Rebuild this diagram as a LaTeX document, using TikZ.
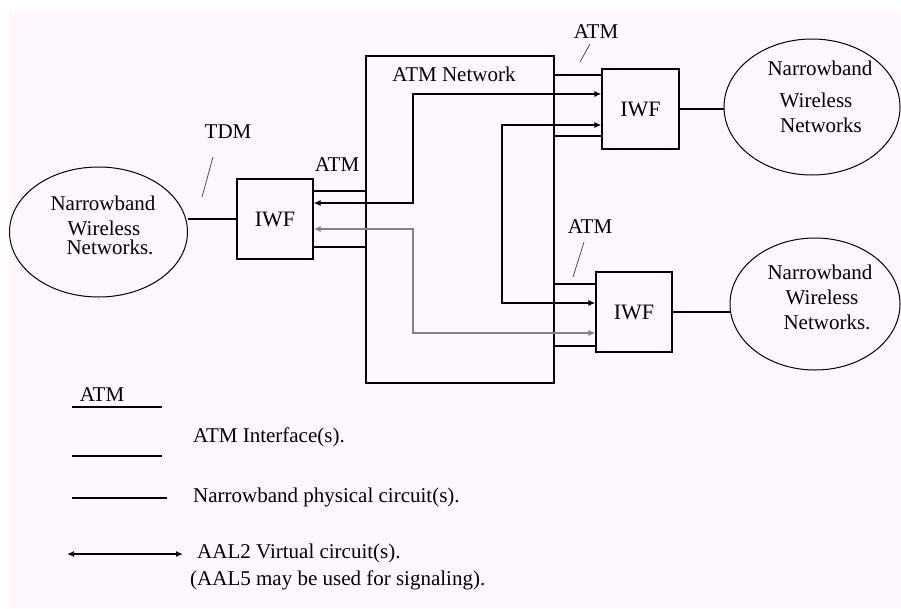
\documentclass[tikz,border=0pt]{standalone}
\usepackage{fontspec}
\setmainfont{Liberation Serif}
\usetikzlibrary{arrows.meta,shapes.geometric}
\definecolor{bgpink}{RGB}{254,247,254}
\definecolor{vcgray}{RGB}{130,130,130}
\tikzset{
  lbl/.style={inner sep=0pt, font=\fontsize{21}{24}\selectfont},
  iwfbox/.style={draw, line width=1.3pt, inner sep=0pt, font=\fontsize{22}{24}\selectfont},
  cloud/.style={draw, ellipse, line width=1pt, inner sep=0pt},
  link/.style={line width=1.3pt},
  vc/.style={line width=1.3pt, {Latex[length=7pt,width=6pt]}-{Latex[length=7pt,width=6pt]}},
  tick/.style={line width=0.8pt, black!70}
}
\begin{document}
\begin{tikzpicture}[x=1pt,y=-1pt]
\useasboundingbox (0,0) rectangle (901,608);
\fill[bgpink] (9,10) rectangle (901,608);

% ATM network
\node[draw, line width=1.3pt, minimum width=188pt, minimum height=327pt, inner sep=0pt] (net) at (460,219.5) {};
\node[lbl] (netlbl) at (454,74) {ATM Network};

% IWF boxes
\node[iwfbox, minimum width=76pt, minimum height=80pt] (liwf) at (275,219) {IWF};
\node[iwfbox, minimum width=77pt, minimum height=80pt] (uiwf) at (640.5,109) {IWF};
\node[iwfbox, minimum width=76pt, minimum height=80pt] (biwf) at (634,312) {IWF};

% ellipses
\node[cloud, minimum width=178pt, minimum height=130pt] (lell) at (98.5,232) {};
\node[cloud, minimum width=176pt, minimum height=136pt] (uell) at (812,107) {};
\node[cloud, minimum width=170pt, minimum height=132pt] (bell) at (815,304) {};

\node[lbl] (lt1) at (103,203) {Narrowband};
\node[lbl] (lt2) at (104,228) {Wireless};
\node[lbl] (lt3) at (110,247) {Networks.};
\node[lbl] (ut1) at (820,68) {Narrowband};
\node[lbl] (ut2) at (816,100) {Wireless};
\node[lbl] (ut3) at (821,125) {Networks};
\node[lbl] (bt1) at (820,272) {Narrowband};
\node[lbl] (bt2) at (822,297) {Wireless};
\node[lbl] (bt3) at (827,322) {Networks.};

% narrowband circuits
\draw[link] (liwf.west) -- (liwf.west -| lell.east);
\draw[link] (uiwf.east) -- (uiwf.east -| uell.west);
\draw[link] (biwf.east) -- (biwf.east -| bell.west);

% ATM interfaces
\draw[link] (liwf.east |- 0,191) -- (net.west |- 0,191);
\draw[link] (liwf.east |- 0,247) -- (net.west |- 0,247);
\draw[link] (net.east |- 0,75) -- (uiwf.west |- 0,75);
\draw[link] (net.east |- 0,136) -- (uiwf.west |- 0,136);
\draw[link] (net.east |- 0,284) -- (biwf.west |- 0,284);
\draw[link] (net.east |- 0,346) -- (biwf.west |- 0,346);

% virtual circuits
\draw[vc] (liwf.east |- 0,203) -- (413,203) -- (413,94) -- (uiwf.west |- 0,94);
\draw[vc, draw=vcgray] (liwf.east |- 0,229) -- (413,229) -- (413,333) -- (biwf.west |- 0,333);
\draw[vc] (uiwf.west |- 0,125) -- (502,125) -- (502,303) -- (biwf.west |- 0,303);

% labels
\node[lbl] (tdm) at (228,132) {TDM};
\coordinate (tdma) at (213,157);
\coordinate (tdmb) at (202,197);
\draw[tick] (tdma) -- (tdmb);
\node[lbl] (latm) at (337,165) {ATM};
\node[lbl] (uatm) at (596,32) {ATM};
\coordinate (uta) at (590,44);
\coordinate (utb) at (580,62);
\draw[tick] (uta) -- (utb);
\node[lbl] (batm) at (590,227) {ATM};
\coordinate (bta) at (584,242);
\coordinate (btb) at (573,277);
\draw[tick] (bta) -- (btb);

% legend
\node[lbl] (gatm) at (102,395) {ATM};
\coordinate (g1a) at (72,407);
\coordinate (g1b) at (162,407);
\draw[link] (g1a) -- (g1b);
\coordinate (g2a) at (72,456);
\coordinate (g2b) at (162,456);
\draw[link] (g2a) -- (g2b);
\node[lbl, anchor=west] (gt1) at (193,437) {ATM Interface(s).};
\coordinate (g3a) at (72,498);
\coordinate (g3b) at (167,498);
\draw[link] (g3a) -- (g3b);
\node[lbl, anchor=west] (gt2) at (193,497) {Narrowband physical circuit(s).};
\coordinate (g4a) at (67,554);
\coordinate (g4b) at (183,554);
\draw[vc] (g4a) -- (g4b);
\node[lbl, anchor=west] (gt3) at (197,553) {AAL2 Virtual circuit(s).};
\node[lbl, anchor=west] (gt4) at (190,580) {(AAL5 may be used for signaling).};
\end{tikzpicture}
\end{document}
